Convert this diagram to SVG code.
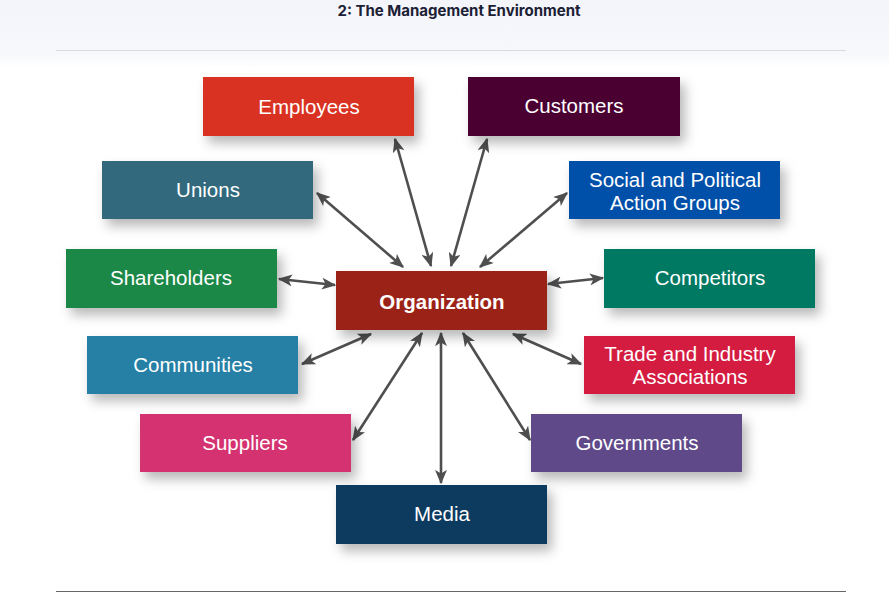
<svg xmlns="http://www.w3.org/2000/svg" width="889" height="616" viewBox="0 0 889 616">
<defs>
<style>
.box{filter:url(#sh);}
.lbl{font-family:"Liberation Sans",Arial,sans-serif;font-size:20.5px;fill:#ffffff;text-anchor:middle;}
.bold{font-weight:bold;}
.conn line{stroke:#4f4f4f;stroke-width:2.6;marker-start:url(#ah);marker-end:url(#ah);}
</style>
<filter id="sh" x="-20%" y="-30%" width="150%" height="180%">
<feDropShadow dx="5" dy="7" stdDeviation="6" flood-color="#000" flood-opacity="0.28"/>
</filter>
<marker id="ah" viewBox="0 0 12 10" refX="11" refY="5" markerWidth="5.6" markerHeight="4.6" orient="auto-start-reverse" markerUnits="strokeWidth">
<path d="M0,0 L12,5 L0,10 L3,5 Z" fill="#4f4f4f"/>
</marker>
<linearGradient id="hdr" x1="0" y1="0" x2="0" y2="1">
<stop offset="0" stop-color="#f3f5fa"/>
<stop offset="0.8" stop-color="#f7f8fc"/>
<stop offset="1" stop-color="#ffffff"/>
</linearGradient>
</defs>
<rect width="889" height="616" fill="#ffffff"/>
<rect width="889" height="68" fill="url(#hdr)"/>
<text x="459" y="16" font-family="Inter,'Liberation Sans',sans-serif" font-size="15" font-weight="bold" fill="#1b2035" text-anchor="middle">2: The Management Environment</text>
<line x1="56" y1="50.5" x2="846" y2="50.5" stroke="#d9dbe0" stroke-width="1"/>
<line x1="56" y1="591.5" x2="846" y2="591.5" stroke="#666666" stroke-width="1.2"/>

<g id="connectors" class="conn">
<line x1="431" y1="266" x2="395" y2="139"/>
<line x1="451" y1="266" x2="487" y2="139"/>
<line x1="403" y1="267" x2="317" y2="193"/>
<line x1="480" y1="267" x2="567" y2="193"/>
<line x1="335" y1="285" x2="279" y2="279"/>
<line x1="548" y1="284" x2="603" y2="278"/>
<line x1="371" y1="334" x2="302" y2="364"/>
<line x1="422" y1="333" x2="353" y2="440"/>
<line x1="441" y1="333" x2="441" y2="483"/>
<line x1="463" y1="333" x2="530" y2="440"/>
<line x1="513" y1="334" x2="581" y2="364"/>
</g>

<g id="employees"><rect class="box" x="203" y="77" width="211" height="59" fill="#d93224"/><text class="lbl" x="309" y="114">Employees</text></g>
<g id="customers"><rect class="box" x="468" y="77" width="212" height="59" fill="#4b0030"/><text class="lbl" x="574" y="113">Customers</text></g>
<g id="unions"><rect class="box" x="102" y="161" width="211" height="58" fill="#33697c"/><text class="lbl" x="208" y="197">Unions</text></g>
<g id="social"><rect class="box" x="569" y="161" width="211" height="58" fill="#0650a9"/><text class="lbl" x="675" y="187">Social and Political</text><text class="lbl" x="675" y="210">Action Groups</text></g>
<g id="shareholders"><rect class="box" x="66" y="249" width="211" height="59" fill="#1a8847"/><text class="lbl" x="171" y="285">Shareholders</text></g>
<g id="competitors"><rect class="box" x="604" y="249" width="211" height="59" fill="#007964"/><text class="lbl" x="710" y="285">Competitors</text></g>
<g id="organization"><rect class="box" x="336" y="271" width="211" height="59" fill="#9b2216"/><text class="lbl bold" x="442" y="309">Organization</text></g>
<g id="communities"><rect class="box" x="87" y="336" width="211" height="58" fill="#267fa5"/><text class="lbl" x="193" y="372">Communities</text></g>
<g id="trade"><rect class="box" x="584" y="336" width="211" height="58" fill="#d41f40"/><text class="lbl" x="690" y="361">Trade and Industry</text><text class="lbl" x="690" y="384">Associations</text></g>
<g id="suppliers"><rect class="box" x="140" y="414" width="211" height="58" fill="#d43170"/><text class="lbl" x="245" y="450">Suppliers</text></g>
<g id="governments"><rect class="box" x="531" y="414" width="211" height="58" fill="#5f4a89"/><text class="lbl" x="637" y="450">Governments</text></g>
<g id="media"><rect class="box" x="336" y="485" width="211" height="59" fill="#0a3a5e"/><text class="lbl" x="442" y="521">Media</text></g>
</svg>
